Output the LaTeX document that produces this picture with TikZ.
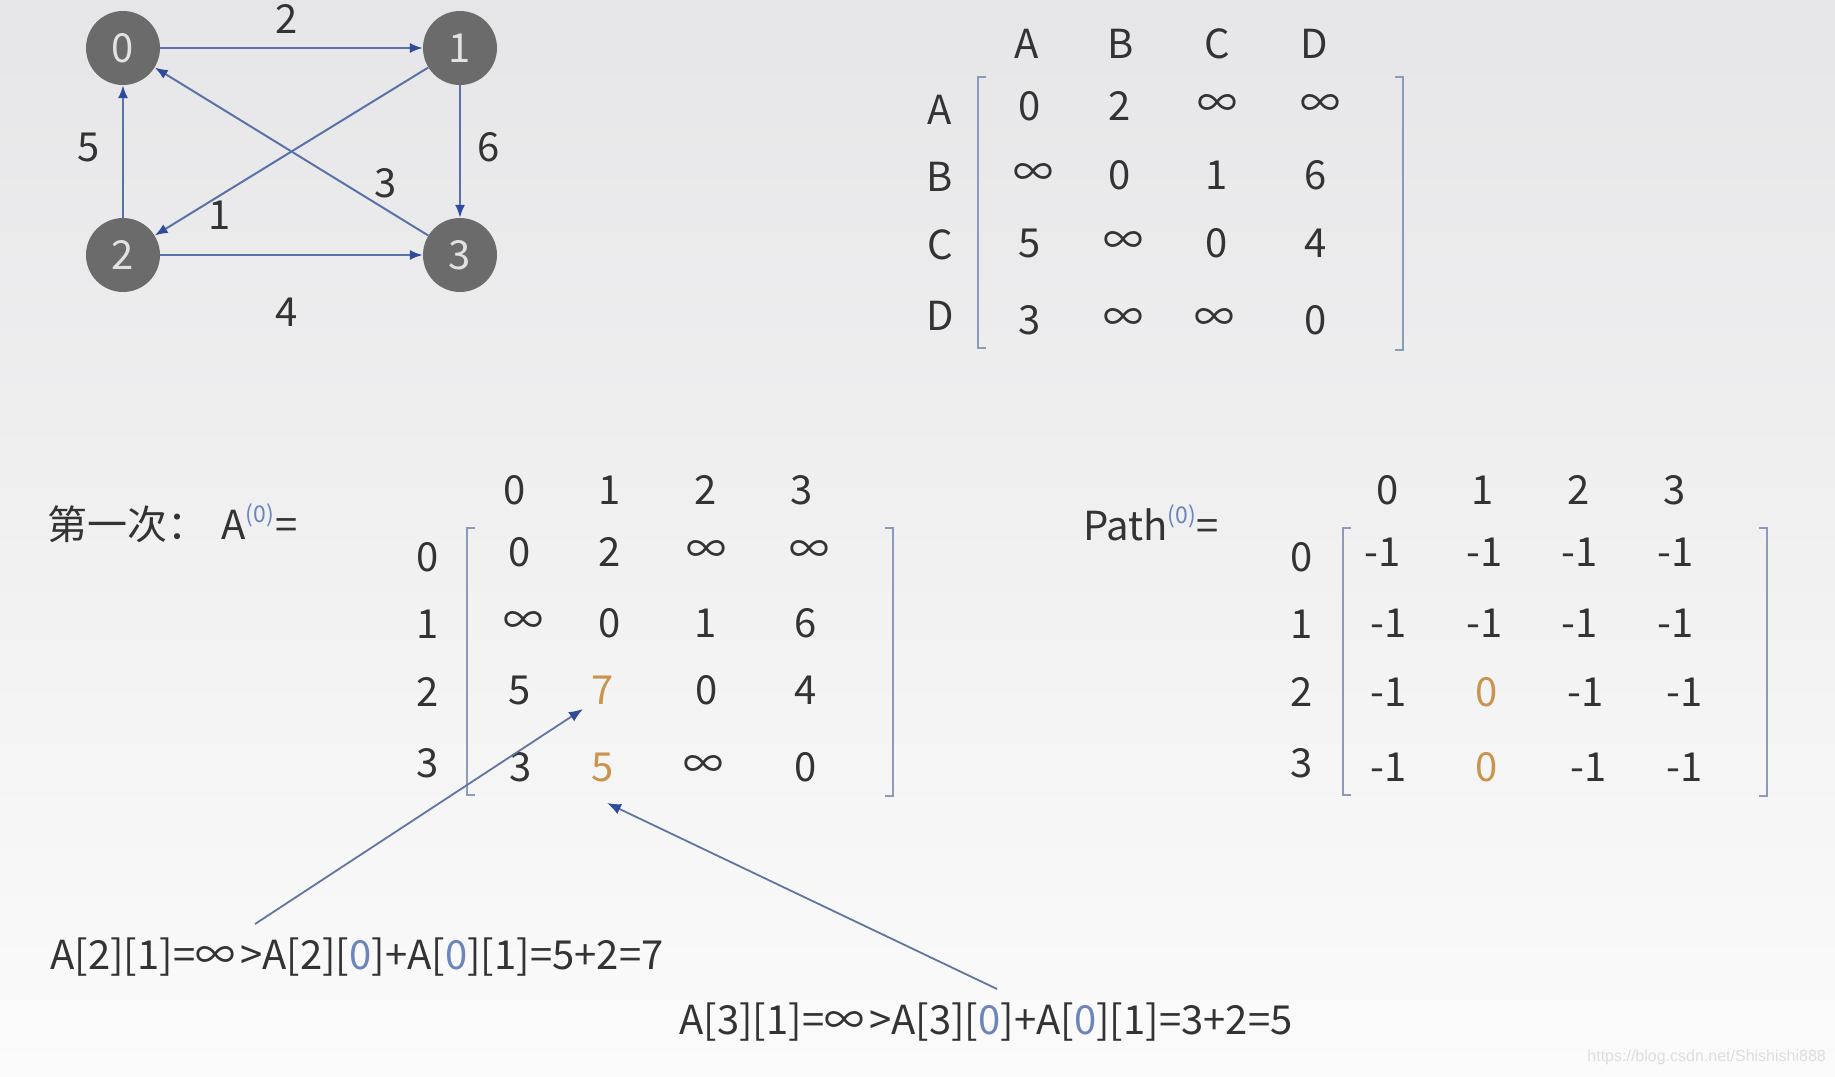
\documentclass[tikz,border=0pt]{standalone}
\usepackage{fontspec}
\setmainfont{Noto Sans CJK SC}
\newfontfamily\wmfont{Liberation Sans}
\usetikzlibrary{arrows.meta}
\newcommand{\fsz}[1]{\fontsize{#1}{#1}\selectfont}
\definecolor{bgtop}{HTML}{E6E6E8}
\definecolor{bgmid}{HTML}{F2F2F4}
\definecolor{bgbot}{HTML}{FBFBFB}
\definecolor{nodegray}{HTML}{6B6B6B}
\definecolor{nodetxt}{HTML}{E2E2E2}
\definecolor{edgeblue}{HTML}{5A72A8}
\definecolor{tipblue}{HTML}{2F4C9C}
\definecolor{txt}{HTML}{333333}
\definecolor{hl}{HTML}{C8944E}
\definecolor{supblue}{HTML}{6A84BC}
\definecolor{brk}{HTML}{8C9CB8}
\definecolor{wm}{HTML}{DDDDDD}
\begin{document}
\begin{tikzpicture}[x=1pt,y=-1pt,
  vert/.style={circle,fill=nodegray,text=nodetxt,minimum size=74pt,inner sep=0pt,font=\fsz{40}},
  edge/.style={draw=edgeblue,line width=2pt,-{Latex[length=13pt,width=10pt,color=tipblue]}},
  pointer/.style={draw=edgeblue!80!gray,line width=1.8pt,-{Latex[length=14pt,width=11pt,color=tipblue]}},
  lbl/.style={text=txt,font=\fsz{40},inner sep=0pt},
  hlbl/.style={lbl,text=hl},
  brack/.style={draw=brk,line width=2pt}]
\shade[top color=bgtop,middle color=bgmid,bottom color=bgbot] (0,0) rectangle (1835,1076);
\useasboundingbox (0,0) rectangle (1835,1076);

% graph
\node[vert] (v0) at (123,48) {0};
\node[vert] (v1) at (460,48) {1};
\node[vert] (v2) at (123,255) {2};
\node[vert] (v3) at (460,255) {3};
\draw[edge] (v0) -- (v1);
\draw[edge] (v1) -- (v3);
\draw[edge] (v2) -- (v0);
\draw[edge] (v2) -- (v3);
\draw[edge] (v1) -- (v2);
\draw[edge] (v3) -- (v0);
\node[lbl] (w01) at (287,19) {2};
\node[lbl] (w20) at (89,147) {5};
\node[lbl] (w13) at (489,147) {6};
\node[lbl] (w30) at (386,183) {3};
\node[lbl] (w12) at (220,215) {1};
\node[lbl] (w23) at (287,312) {4};

% top matrix
\foreach \t/\x [count=\i] in {A/1027,B/1121,C/1217,D/1314}
  \node[lbl] (th\i) at (\x,44) {\t};
\foreach \t/\y [count=\i] in {A/110,B/177,C/245,D/316}
  \node[lbl] (tr\i) at (940,\y) {\t};
\foreach \n/\x/\y/\t in {
  11/1030/106/0, 12/1120/106/2, 13/1217/106/∞, 14/1320/106/∞,
  21/1033/175/∞, 22/1120/175/0, 23/1217/175/1, 24/1316/175/6,
  31/1030/243/5, 32/1123/243/∞, 33/1217/243/0, 34/1316/243/4,
  41/1030/320/3, 42/1123/320/∞, 43/1214/320/∞, 44/1316/320/0}
  \node[lbl] (te\n) at (\x,\y) {\t};
\draw[brack] (986,77) -- (978,77) -- (978,348) -- (986,348);
\draw[brack] (1395,77) -- (1403,77) -- (1403,350) -- (1395,350);

% A^(0) matrix
\node[lbl,anchor=west] (alab) at (47,523) {第一次：\hspace{14pt}A\raisebox{0.42em}{\fsz{23}\color{supblue}(0)}\hspace{2pt}=};
\foreach \t/\x [count=\i] in {0/515,1/610,2/706,3/802}
  \node[lbl] (ah\i) at (\x,490) {\t};
\foreach \t/\y [count=\i] in {0/557,1/624,2/692,3/763}
  \node[lbl] (ar\i) at (428,\y) {\t};
\foreach \n/\x/\y/\t in {
  11/520/552/0, 12/610/552/2, 13/706/552/∞, 14/809/552/∞,
  21/523/623/∞, 22/610/623/0, 23/706/623/1, 24/806/623/6,
  31/520/690/5, 33/707/690/0, 34/806/690/4,
  41/521/767/3, 43/703/767/∞, 44/806/767/0}
  \node[lbl] (ae\n) at (\x,\y) {\t};
\node[hlbl] (ae32) at (603,690) {7};
\node[hlbl] (ae42) at (603,767) {5};
\draw[brack] (475,528) -- (467,528) -- (467,795) -- (475,795);
\draw[brack] (885,528) -- (893,528) -- (893,796) -- (885,796);

% Path^(0) matrix
\node[lbl,anchor=west] (plab) at (1083,523) {Path\raisebox{0.42em}{\fsz{23}\color{supblue}(0)}=};
\foreach \t/\x [count=\i] in {0/1388,1/1483,2/1579,3/1675}
  \node[lbl] (ph\i) at (\x,490) {\t};
\foreach \t/\y [count=\i] in {0/557,1/624,2/692,3/763}
  \node[lbl] (pr\i) at (1302,\y) {\t};
\foreach \n/\x/\y in {
  11/1383/552, 12/1485/552, 13/1580/552, 14/1676/552,
  21/1389/623, 22/1485/623, 23/1580/623, 24/1676/623,
  31/1389/692, 33/1586/692, 34/1685/692,
  41/1389/767, 43/1589/767, 44/1685/767}
  \node[lbl] (pe\n) at (\x,\y) {-1};
\node[hlbl] (pe32) at (1487,692) {0};
\node[hlbl] (pe42) at (1487,767) {0};
\draw[brack] (1351,528) -- (1343,528) -- (1343,795) -- (1351,795);
\draw[brack] (1759,528) -- (1767,528) -- (1767,796) -- (1759,796);

% explanations
\node[lbl,anchor=west] (ex1) at (50,957) {A[2][1]=∞\hspace{5pt}>A[2][\textcolor{supblue}{0}]+A[\textcolor{supblue}{0}][1]=5+2=7};
\node[lbl,anchor=west] (ex2) at (679,1022) {A[3][1]=∞\hspace{5pt}>A[3][\textcolor{supblue}{0}]+A[\textcolor{supblue}{0}][1]=3+2=5};
\coordinate (p1s) at (255,924);
\coordinate (p1e) at (583,709);
\coordinate (p2s) at (997,989);
\coordinate (p2e) at (607,803);
\draw[pointer] (p1s) -- (p1e);
\draw[pointer] (p2s) -- (p2e);

% watermark
\node[anchor=east,inner sep=0pt,text=wm,font=\wmfont\fsz{16}] (wmk) at (1826,1057) {https://blog.csdn.net/Shishishi888};
\end{tikzpicture}
\end{document}
